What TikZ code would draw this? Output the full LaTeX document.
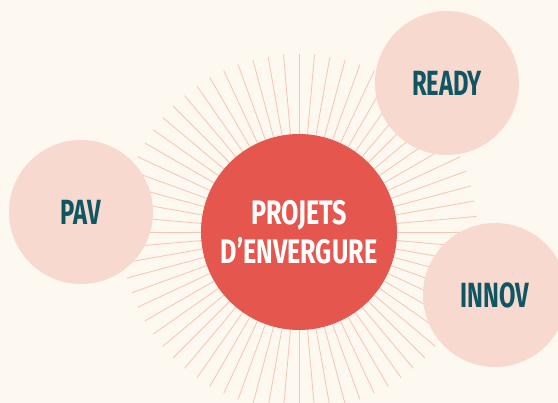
\documentclass[tikz,border=0pt]{standalone}
\usepackage{fontspec}
\newfontfamily\condfont[FakeStretch=0.68]{Fira Sans}
\newfontfamily\hubfont[FakeStretch=0.74]{Fira Sans}
\usetikzlibrary{positioning}
\definecolor{cream}{HTML}{FDF8F0}
\definecolor{rosy}{HTML}{F8D9CF}
\definecolor{raycol}{HTML}{F6C4B4}
\definecolor{hubred}{HTML}{E5574E}
\definecolor{teal}{HTML}{0E5663}

\begin{document}
\begin{tikzpicture}[x=1pt,y=1pt]
    \tikzstyle{every node}=[circle,inner sep=0,align=center]
    \tikzstyle{ray}=[draw=raycol,line width=0.8]
    \tikzstyle{hubnode}=[fill=hubred,minimum size=196,text=white,font=\hubfont\bfseries\fontsize{34}{39}\selectfont]
    \tikzstyle{side}=[fill=rosy,minimum size=144,text=teal,font=\condfont\bfseries\fontsize{35}{39}\selectfont]
    \fill[cream] (0,0) rectangle (558,403);
    \useasboundingbox (0,0) rectangle (558,403);
    \coordinate (c) at (299,171);
    % rays
    \foreach \a in {0,5,...,355}
        \draw[ray] (c) ++(\a:90) -- ++(\a:88);
    \node[hubnode] (hub) at (c) {PROJETS\\D’ENVERGURE};
    \node[side] (pav) at (81,191) {PAV};
    \node[side] (ready) at (447,320) {READY};
    \node[side] (innov) at (495,108) {INNOV};
\end{tikzpicture}
\end{document}
